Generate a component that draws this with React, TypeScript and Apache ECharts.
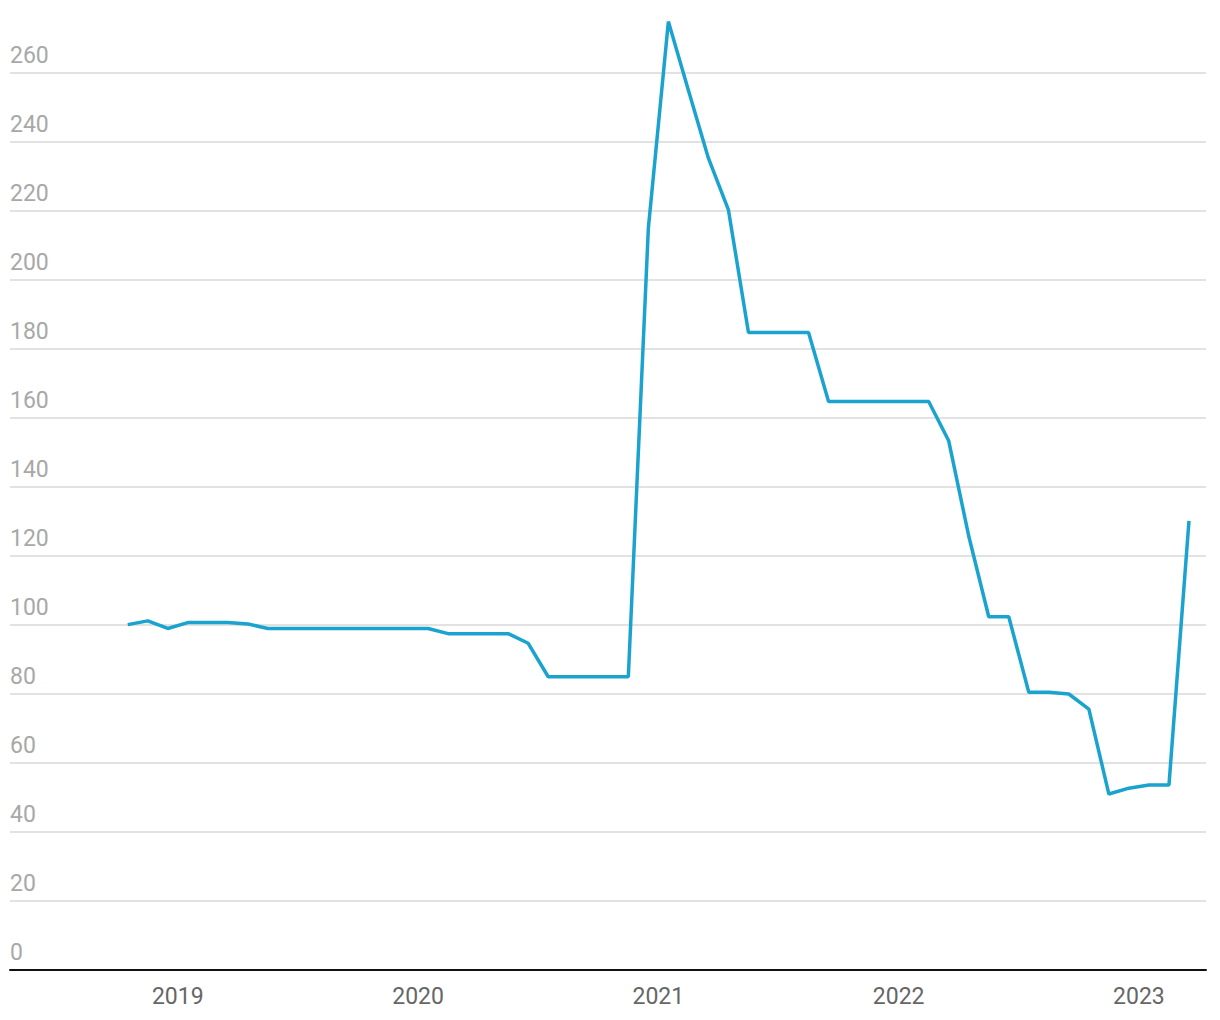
import React, { useEffect, useRef } from "react";
import * as echarts from "echarts";

// Monthly observations, Oct 2018 – Mar 2023
const months: string[] = [
  "2018-10", "2018-11", "2018-12",
  "2019-01", "2019-02", "2019-03", "2019-04", "2019-05", "2019-06", "2019-07", "2019-08", "2019-09", "2019-10", "2019-11", "2019-12",
  "2020-01", "2020-02", "2020-03", "2020-04", "2020-05", "2020-06", "2020-07", "2020-08", "2020-09", "2020-10", "2020-11", "2020-12",
  "2021-01", "2021-02", "2021-03", "2021-04", "2021-05", "2021-06", "2021-07", "2021-08", "2021-09", "2021-10", "2021-11", "2021-12",
  "2022-01", "2022-02", "2022-03", "2022-04", "2022-05", "2022-06", "2022-07", "2022-08", "2022-09", "2022-10", "2022-11", "2022-12",
  "2023-01", "2023-02", "2023-03",
];
const values: number[] = [
  100.1, 101.2, 99.0, 100.7, 100.7, 100.7, 100.3, 99.0, 99.0, 99.0, 99.0, 99.0, 99.0, 99.0, 99.0,
  99.0, 97.5, 97.5, 97.5, 97.5, 94.7, 85.0, 85.0, 85.0, 85.0, 85.0, 215.0,
  274.9, 255.0, 235.3, 220.3, 184.8, 184.8, 184.8, 184.8, 164.8, 164.8, 164.8, 164.8,
  164.8, 164.8, 153.4, 125.8, 102.4, 102.4, 80.5, 80.5, 80.0, 75.6, 51.0, 52.7,
  53.6, 53.6, 130.2,
];
// Year labels sit at the boundary between December and January (index + 0.5)
const yearTicks: number[] = [2.5, 14.5, 26.5, 38.5, 50.5];
const yearLabels: string[] = ["2019", "2020", "2021", "2022", "2023"];

export default function App() {
  const ref = useRef<HTMLDivElement>(null);
  useEffect(() => {
    if (!ref.current) return;
    const chart = echarts.init(ref.current, null, { renderer: "svg" });
    const seriesData = values.map((v, i) => [i, v]);
    chart.setOption({
      animation: false,
      backgroundColor: "#ffffff",
      textStyle: { fontFamily: "Roboto" },
      grid: { left: 10, right: 14, top: 4, bottom: 50, containLabel: false },
      xAxis: {
        type: "value",
        min: -5.88,
        max: 53.85,
        splitLine: { show: false },
        axisTick: { show: false },
        axisLine: { show: true, onZero: false, lineStyle: { color: "#111111", width: 2 } },
        axisLabel: {
          customValues: yearTicks,
          formatter: (v: number) => {
            const k = yearTicks.findIndex((t) => Math.abs(t - v) < 1e-6);
            return k >= 0 ? yearLabels[k] : "";
          },
          color: "#666666",
          fontSize: 23,
          fontFamily: "Roboto",
          margin: 15,
        },
      },
      yAxis: {
        type: "value",
        min: 0,
        max: 280,
        interval: 20,
        axisLine: { show: false },
        axisTick: { show: false },
        splitLine: { show: true, showMaxLine: false, showMinLine: false, lineStyle: { color: "#e2e2e2", width: 2 } },
        axisLabel: {
          inside: true,
          showMaxLabel: false,
          margin: 0,
          verticalAlign: "bottom",
          padding: [0, 0, 6, 0],
          color: "#a8a8a8",
          fontSize: 23,
          fontFamily: "Roboto",
        },
      },
      series: [
        {
          type: "line",
          data: seriesData,
          showSymbol: false,
          symbol: "none",
          lineStyle: { color: "#1ba3d0", width: 3.5 },
          z: 3,
        },
      ],
    });
    return () => chart.dispose();
  }, []);
  return (
    <div
      ref={ref}
      style={{ position: "fixed", left: 0, top: 0, width: 1220, height: 1020, background: "#fff" }}
    />
  );
}
